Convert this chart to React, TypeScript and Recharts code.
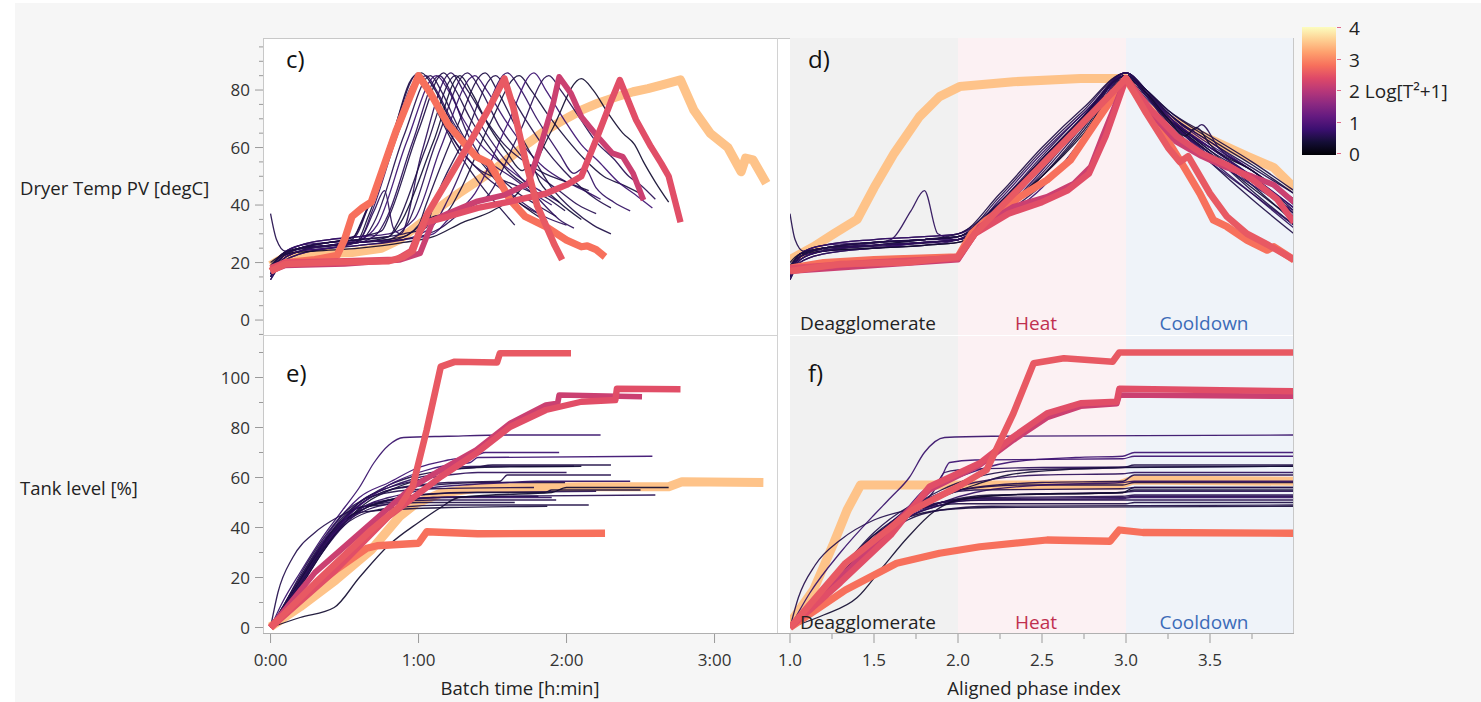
import React from "react";
import { LineChart, Line, XAxis, YAxis, ReferenceArea } from "recharts";

type Pt = [number, number];

// Log[T²+1] per batch. Index 0 is drawn first.
// 0 = pale orange outlier, 1..21 = normal batches, 22..25 = red/magenta outliers
const batchScore = [
  3.5, 0.5, 0.6, 0.45, 0.7, 0.55, 0.8, 0.5, 0.65, 0.4, 0.6, 0.75, 0.5, 0.55,
  0.7, 0.45, 0.8, 0.6, 0.35, 0.55, 0.65, 0.5, 2.8, 2.2, 2.45, 2.56,
];

// c) dryer temperature vs batch time [h]
const tempByTime: Pt[][] = [
  [[0,19],[0.1,22],[0.3,23],[0.55,23.5],[0.75,25],[0.87,28],[1.05,35],[1.15,39.5],[1.27,44],[1.4,48.5],[1.53,53],[1.64,57.5],[1.74,61.5],[1.86,66],[1.98,69.6],[2.1,73],[2.21,75.4],[2.33,77.5],[2.45,79.4],[2.55,80.5],[2.64,81.7],[2.77,83.5],[2.86,73],[2.97,65],[3.09,60],[3.18,51.6],[3.21,56.3],[3.26,55.7],[3.35,47.6]],
  [[0,15],[0.08,21],[0.2,24],[0.4,26],[0.55,28],[0.62,35],[0.8,60],[0.98,85],[1.06,80],[1.15,70],[1.25,60],[1.35,52],[1.45,45],[1.55,39],[1.65,33]],
  [[0,17],[0.08,22],[0.2,25],[0.4,27],[0.57,29],[0.65,38],[0.82,63],[1.0,84],[1.08,78],[1.2,66],[1.32,57],[1.45,50],[1.6,44],[1.7,40],[1.81,37]],
  [[0,14],[0.08,20],[0.2,23],[0.4,25],[0.58,27],[0.66,36],[0.85,64],[1.02,86],[1.1,81],[1.2,71],[1.3,62],[1.42,55],[1.55,47],[1.7,40],[1.87,34]],
  [[0,18],[0.08,23],[0.2,26],[0.4,27],[0.6,28],[0.68,37],[0.87,66],[1.05,85],[1.12,80],[1.22,70],[1.35,60],[1.5,54],[1.62,50],[1.75,45],[1.9,40]],
  [[0,37],[0.04,28],[0.1,24],[0.25,25],[0.45,26],[0.62,28],[0.7,34],[0.9,64],[1.08,85],[1.16,79],[1.26,68],[1.38,58],[1.52,51],[1.65,45],[1.8,40],[1.93,36]],
  [[0,16],[0.08,22],[0.2,25],[0.4,27],[0.6,28],[0.72,33],[0.92,62],[1.12,85],[1.2,80],[1.3,70],[1.42,61],[1.55,55],[1.7,49],[1.82,45],[1.95,41]],
  [[0,19],[0.08,23],[0.2,26],[0.4,28],[0.6,29],[0.75,31],[0.8,36],[1.0,66],[1.17,86],[1.25,80],[1.35,70],[1.48,60],[1.6,52],[1.75,46],[1.88,42],[1.99,38]],
  [[0,16],[0.08,22],[0.2,25],[0.4,26],[0.6,28],[0.7,38],[0.77,45],[0.83,32],[0.88,30],[1.02,58],[1.22,86],[1.3,80],[1.42,68],[1.55,58],[1.7,49],[1.85,40],[1.95,35],[2.05,32]],
  [[0,17],[0.08,22],[0.2,25],[0.4,26],[0.6,27],[0.8,29],[0.88,34],[1.1,62],[1.28,85],[1.36,79],[1.48,67],[1.6,58],[1.7,52],[1.76,54],[1.82,48],[1.95,41],[2.1,35]],
  [[0,15],[0.08,21],[0.2,24],[0.4,26],[0.6,27],[0.8,28],[0.92,33],[1.12,62],[1.33,86],[1.42,80],[1.55,67],[1.68,58],[1.82,50],[1.95,45],[2.08,40],[2.2,37]],
  [[0,18],[0.08,23],[0.2,26],[0.4,28],[0.6,29],[0.8,30],[0.97,35],[1.15,60],[1.38,85],[1.46,80],[1.58,70],[1.72,60],[1.85,53],[2.0,48],[2.12,45],[2.23,42]],
  [[0,16],[0.08,22],[0.2,24],[0.4,25],[0.6,26],[0.85,28],[1.0,33],[1.05,40],[1.25,66],[1.45,86],[1.53,80],[1.65,68],[1.78,56],[1.9,46],[2.05,38],[2.18,33],[2.3,30]],
  [[0,17],[0.08,23],[0.2,25],[0.4,27],[0.6,28],[0.9,30],[1.05,32],[1.1,40],[1.3,62],[1.52,85],[1.6,80],[1.72,70],[1.85,60],[1.98,52],[2.1,46],[2.2,42],[2.3,39]],
  [[0,14],[0.08,20],[0.2,23],[0.4,25],[0.6,26],[0.9,28],[1.1,33],[1.2,42],[1.42,68],[1.6,86],[1.68,81],[1.8,70],[1.95,58],[2.05,51],[2.12,53],[2.2,46],[2.32,41],[2.43,38]],
  [[0,18],[0.08,23],[0.2,25],[0.4,26],[0.6,27],[0.9,29],[1.1,36],[1.18,37],[1.28,45],[1.48,68],[1.68,85],[1.76,80],[1.88,71],[2.0,63],[2.12,56],[2.25,50],[2.38,47],[2.5,44]],
  [[0,16],[0.08,21],[0.2,24],[0.4,25],[0.6,27],[0.9,28],[1.1,30],[1.2,35],[1.38,44],[1.6,68],[1.78,86],[1.86,80],[1.98,70],[2.1,61],[2.22,55],[2.35,48],[2.48,43],[2.58,39]],
  [[0,17],[0.08,22],[0.2,25],[0.4,26],[0.6,27],[0.9,28],[1.15,32],[1.3,38],[1.48,44],[1.68,65],[1.88,85],[1.96,80],[2.08,71],[2.2,62],[2.32,56],[2.42,50],[2.5,47],[2.6,42]],
  [[0,20],[0.1,23],[0.3,24],[0.6,25],[0.9,27],[1.1,29],[1.3,34],[1.5,38],[1.7,46],[1.9,66],[2.1,84],[2.18,80],[2.28,72],[2.38,65],[2.46,61],[2.52,55],[2.6,48],[2.69,41]],
  [[0,16],[0.08,22],[0.2,25],[0.4,27],[0.56,29],[0.64,37],[0.82,64],[1.0,86],[1.08,80],[1.18,68],[1.3,58],[1.42,52],[1.55,49],[1.65,47],[1.78,44]],
  [[0,15],[0.08,21],[0.2,24],[0.4,26],[0.6,27],[0.72,30],[0.78,35],[0.96,62],[1.14,85],[1.22,79],[1.32,66],[1.44,55],[1.56,47],[1.7,41],[1.85,36],[2.0,33]],
  [[0,18],[0.08,23],[0.2,25],[0.4,27],[0.6,28],[0.8,29],[0.85,33],[1.05,60],[1.25,85],[1.33,80],[1.45,70],[1.58,61],[1.72,55],[1.85,51],[2.0,48],[2.15,45]],
  [[0,17],[0.1,20],[0.3,21],[0.45,22.5],[0.5,28],[0.55,36],[0.62,39],[0.68,41],[0.85,66],[1.0,85],[1.08,79],[1.2,68],[1.29,62.6],[1.39,56.8],[1.48,54.5],[1.62,41.7],[1.72,36],[1.86,32.5],[2.0,27.8],[2.1,25.5],[2.14,25.8],[2.2,24.5],[2.26,22]],
  [[0,17],[0.1,19],[0.5,19.5],[0.87,20.9],[1.01,23.2],[1.1,34.8],[1.2,37.1],[1.39,41.2],[1.58,43.5],[1.74,47.5],[1.81,58],[1.91,75.4],[1.95,84.6],[2.03,78.8],[2.1,70.7],[2.21,63.8],[2.31,58],[2.38,56.8],[2.45,51],[2.52,41.7]],
  [[0,18],[0.1,20],[0.5,20.5],[0.85,21],[0.95,24],[1.0,30],[1.05,34],[1.2,36],[1.4,39],[1.6,41],[1.86,44],[2.0,47],[2.1,50],[2.21,64],[2.3,76],[2.36,83.5],[2.47,69.6],[2.57,60.3],[2.64,54.5],[2.69,50],[2.77,34]],
  [[0,17],[0.1,19.5],[0.4,20],[0.8,20.5],[0.9,22],[0.96,24],[1.01,31],[1.06,37],[1.2,49],[1.35,62],[1.47,73],[1.58,84],[1.64,74],[1.72,56],[1.8,40],[1.86,33],[1.92,26],[1.97,21]],
];

// d) dryer temperature vs aligned phase index
const tempByPhase: Pt[][] = [
  [[1,21],[1.14,25.5],[1.26,30],[1.4,35],[1.5,46],[1.62,58],[1.77,70.7],[1.89,77.7],[2.01,81.2],[2.33,82.9],[2.73,84],[3.0,84],[3.12,74],[3.42,65],[3.72,57],[3.88,53],[4.0,46]],
  [[1,15],[1.06,21],[1.2,24],[1.5,26],[1.8,27],[2.0,28],[2.25,40],[2.5,55],[2.75,71],[3.0,85],[3.12,78],[3.25,70],[3.5,58],[3.75,45],[4.0,33]],
  [[1,17],[1.06,22],[1.2,25],[1.5,27],[1.8,28],[2.0,29],[2.25,41],[2.5,57],[2.75,72],[3.0,84],[3.12,77],[3.25,70],[3.5,60],[3.75,50],[4.0,37]],
  [[1,14],[1.06,20],[1.2,23],[1.5,25],[1.8,26],[2.0,27],[2.25,39],[2.5,55],[2.75,71],[3.0,86],[3.12,79],[3.25,71],[3.5,59],[3.75,47],[4.0,34]],
  [[1,18],[1.06,23],[1.2,26],[1.5,27],[1.8,28],[2.0,28],[2.25,42],[2.5,58],[2.75,72],[3.0,85],[3.12,78],[3.25,70],[3.5,60],[3.75,52],[4.0,40]],
  [[1,37],[1.03,28],[1.08,24],[1.3,25],[1.6,26],[2.0,28],[2.25,40],[2.5,56],[2.75,71],[3.0,85],[3.12,78],[3.25,69],[3.5,58],[3.75,48],[4.0,36]],
  [[1,16],[1.06,22],[1.2,25],[1.5,27],[1.8,28],[2.0,29],[2.25,38],[2.5,53],[2.75,69],[3.0,86],[3.12,80],[3.25,72],[3.5,61],[3.75,52],[4.0,41]],
  [[1,19],[1.06,23],[1.2,26],[1.5,28],[1.8,29],[2.0,30],[2.25,44],[2.5,60],[2.75,74],[3.0,86],[3.12,79],[3.25,71],[3.5,59],[3.75,50],[4.0,38]],
  [[1,16],[1.06,22],[1.2,25],[1.4,26],[1.6,28],[1.72,38],[1.8,45],[1.88,30],[2.0,28],[2.25,37],[2.5,52],[2.75,69],[3.0,86],[3.12,79],[3.25,70],[3.5,56],[3.75,44],[4.0,32]],
  [[1,17],[1.06,22],[1.2,25],[1.5,26],[1.8,28],[2.0,29],[2.25,39],[2.5,54],[2.75,70],[3.0,85],[3.12,78],[3.25,70],[3.5,58],[3.75,46],[4.0,35]],
  [[1,15],[1.06,21],[1.2,24],[1.5,26],[1.8,27],[2.0,28],[2.25,37],[2.5,51],[2.75,68],[3.0,86],[3.12,80],[3.25,70],[3.5,58],[3.75,48],[4.0,37]],
  [[1,18],[1.06,23],[1.2,26],[1.5,28],[1.8,29],[2.0,30],[2.25,40],[2.5,55],[2.75,70],[3.0,85],[3.12,80],[3.25,72],[3.5,62],[3.75,52],[4.0,42]],
  [[1,16],[1.06,22],[1.2,24],[1.5,25],[1.8,27],[2.0,28],[2.25,36],[2.5,50],[2.75,67],[3.0,86],[3.12,79],[3.25,69],[3.5,55],[3.75,42],[4.0,30]],
  [[1,17],[1.06,23],[1.2,25],[1.5,27],[1.8,28],[2.0,30],[2.25,41],[2.5,56],[2.75,71],[3.0,85],[3.12,79],[3.25,71],[3.5,60],[3.75,50],[4.0,39]],
  [[1,14],[1.06,20],[1.2,23],[1.5,25],[1.8,26],[2.0,28],[2.25,39],[2.5,54],[2.75,70],[3.0,86],[3.12,79],[3.25,70],[3.5,57],[3.75,47],[4.0,38]],
  [[1,18],[1.06,23],[1.2,25],[1.5,26],[1.8,28],[2.0,29],[2.2,36],[2.25,38],[2.5,50],[2.75,66],[3.0,85],[3.12,80],[3.25,73],[3.5,63],[3.75,54],[4.0,44]],
  [[1,16],[1.06,21],[1.2,24],[1.5,25],[1.8,27],[2.0,28],[2.25,35],[2.5,46],[2.75,64],[3.0,86],[3.12,79],[3.25,71],[3.5,60],[3.75,50],[4.0,39]],
  [[1,17],[1.06,22],[1.2,25],[1.5,26],[1.8,27],[2.0,28],[2.25,36],[2.5,47],[2.75,63],[3.0,85],[3.12,79],[3.25,72],[3.4,66],[3.45,68],[3.55,60],[3.75,52],[4.0,42]],
  [[1,20],[1.06,23],[1.2,24],[1.5,25],[1.8,26],[2.0,27],[2.25,38],[2.5,50],[2.75,65],[3.0,84],[3.12,79],[3.25,70],[3.35,64],[3.42,67],[3.5,61],[3.75,52],[4.0,41]],
  [[1,16],[1.06,22],[1.2,25],[1.5,27],[1.8,28],[2.0,29],[2.25,43],[2.5,59],[2.75,73],[3.0,86],[3.12,80],[3.25,72],[3.5,62],[3.75,53],[4.0,44]],
  [[1,15],[1.06,21],[1.2,24],[1.5,26],[1.8,27],[2.0,28],[2.25,39],[2.5,53],[2.75,70],[3.0,85],[3.12,78],[3.25,68],[3.5,55],[3.75,44],[4.0,33]],
  [[1,18],[1.06,23],[1.2,25],[1.5,27],[1.8,28],[2.0,29],[2.25,41],[2.5,56],[2.75,71],[3.0,85],[3.12,80],[3.25,73],[3.5,64],[3.75,55],[4.0,45]],
  [[1,18],[1.2,20],[1.5,21],[2.0,22],[2.08,30],[2.17,34.8],[2.37,42.9],[2.53,48.7],[2.67,55.7],[2.83,69.6],[3.0,84],[3.16,70.7],[3.32,55.7],[3.44,44],[3.52,34.8],[3.6,32.5],[3.72,27.8],[3.84,24.3],[3.88,25.5],[4.0,20.9]],
  [[1,17],[1.5,19],[2.0,21],[2.13,32.5],[2.33,39.4],[2.53,42.9],[2.69,47.5],[2.79,53.3],[2.86,63.8],[3.0,84],[3.15,72],[3.3,62],[3.45,57],[3.6,53],[3.75,50],[3.88,47],[4.0,41]],
  [[1,18],[1.5,20],[2.0,21.5],[2.1,30],[2.3,37],[2.5,41],[2.65,45],[2.78,51],[2.88,64],[3.0,84],[3.15,73],[3.3,64],[3.45,58],[3.6,54],[3.75,49],[3.9,42],[4.0,34]],
  [[1,17],[1.3,19.5],[1.7,20],[2.0,22],[2.1,30],[2.3,42],[2.5,54],[2.7,66],[2.85,75],[3.0,84],[3.12,72],[3.25,60],[3.32,55],[3.37,57],[3.42,52],[3.5,44],[3.6,36],[3.72,30],[3.85,26],[4.0,21]],
];

// e) tank level vs batch time [h]
const levelByTime: Pt[][] = [
  [[0,0.3],[0.2,8.3],[0.44,19],[0.68,31],[0.87,44.3],[0.985,49.7],[1.15,53.7],[1.39,55.7],[2.1,56.3],[2.69,56.3],[2.78,58.3],[3.33,58]],
  [[0,0],[0.1,9],[0.2,19],[0.35,33],[0.5,44],[0.6,48],[0.75,49],[1.0,50],[1.65,50]],
  [[0,0],[0.1,8],[0.2,18],[0.35,31],[0.5,42],[0.62,48],[0.8,51],[1.1,52],[1.81,52.5]],
  [[0,0],[0.1,10],[0.2,20],[0.35,34],[0.5,43],[0.6,46],[0.8,47],[1.2,48],[1.87,48.5]],
  [[0,0],[0.1,7],[0.2,16],[0.35,30],[0.5,41],[0.65,48],[0.85,51],[1.2,52],[1.9,52]],
  [[0,0],[0.05,14],[0.15,28],[0.3,38],[0.45,44],[0.6,48],[0.8,50],[1.1,51],[1.93,51]],
  [[0,0],[0.1,9],[0.2,19],[0.35,34],[0.5,46],[0.6,52],[0.8,58],[1.0,64],[1.2,67],[1.4,69],[1.45,70],[1.95,70]],
  [[0,0],[0.1,8],[0.2,17],[0.35,31],[0.5,43],[0.62,50],[0.75,54],[0.9,56],[1.1,57],[1.4,58],[1.99,58]],
  [[0,0],[0.1,9],[0.2,18],[0.35,32],[0.5,44],[0.6,50],[0.8,56],[1.0,60],[1.15,62],[1.2,64],[1.5,64.5],[2.05,64.5]],
  [[0,0],[0.1,7],[0.2,16],[0.35,30],[0.5,42],[0.65,50],[0.85,56],[1.05,60],[1.2,63],[1.4,64],[2.1,64.5]],
  [[0,0],[0.1,8],[0.2,17],[0.35,31],[0.5,42],[0.65,48],[0.8,51],[1.0,53],[1.3,54],[2.2,54.5]],
  [[0,0],[0.08,10],[0.2,22],[0.35,36],[0.5,48],[0.6,56],[0.7,66],[0.8,73],[0.9,76],[1.2,76.5],[1.6,77],[2.23,77]],
  [[0,0],[0.1,8],[0.2,18],[0.35,33],[0.5,45],[0.65,52],[0.8,57],[1.0,61],[1.2,63],[1.38,64],[1.5,65],[2.3,65]],
  [[0,0],[0.1,9],[0.2,19],[0.35,33],[0.5,44],[0.65,51],[0.8,55],[1.0,57],[1.2,58],[1.55,58.5],[1.6,61],[2.3,61]],
  [[0,0],[0.1,8],[0.2,17],[0.35,31],[0.5,42],[0.65,49],[0.8,52],[0.95,54],[1.1,56],[1.3,57],[1.6,58],[1.8,58.5],[2.43,58.5]],
  [[0,0],[0.1,9],[0.2,19],[0.35,32],[0.5,43],[0.65,48],[0.8,51],[1.0,53],[1.4,54],[1.85,54],[1.9,55],[2.5,55]],
  [[0,0],[0.1,8],[0.2,17],[0.35,31],[0.5,43],[0.65,51],[0.8,57],[1.0,62],[1.2,65],[1.35,66],[1.4,68],[2.58,68.5]],
  [[0,0],[0.1,10],[0.2,20],[0.35,33],[0.5,42],[0.65,47],[0.85,50],[1.1,52],[1.5,52.5],[2.6,53]],
  [[0,0],[0.2,4],[0.43,8],[0.6,20],[0.8,33],[1.0,42],[1.15,48],[1.27,52],[1.5,53],[1.9,54],[2.0,56],[2.69,56]],
  [[0,0],[0.1,10],[0.2,21],[0.35,35],[0.5,46],[0.62,51],[0.8,54],[1.1,55.5],[1.78,56]],
  [[0,0],[0.1,9],[0.2,18],[0.35,32],[0.5,44],[0.62,51],[0.8,56],[1.0,59],[1.2,61],[1.4,62],[2.0,62]],
  [[0,0],[0.1,8],[0.2,17],[0.35,31],[0.5,41],[0.65,46],[0.85,48],[1.2,49],[2.15,49]],
  [[0,0],[0.2,12.3],[0.44,23],[0.65,31.7],[0.72,32.7],[1.0,33.7],[1.055,38.3],[1.4,37.5],[2.26,37.7]],
  [[0,0],[0.3,22],[0.68,41.7],[0.96,56.3],[1.15,63],[1.39,71],[1.62,81.7],[1.86,89],[1.94,89.7],[1.95,93],[2.51,92.3]],
  [[0,0],[0.44,23],[0.795,44.3],[1.15,60.3],[1.39,69.7],[1.62,80.3],[1.86,87],[2.1,90.3],[2.33,91],[2.34,95.5],[2.77,95.3]],
  [[0,0],[0.3,17.7],[0.68,39],[0.87,48.3],[0.96,56.3],[1.055,79],[1.15,104.3],[1.245,106.3],[1.53,106],[1.55,109.7],[2.03,109.7]],
];

// f) tank level vs aligned phase index
const levelByPhase: Pt[][] = [
  [[1,1.7],[1.14,15],[1.26,33.7],[1.34,47],[1.42,57],[2.96,57],[3.04,59],[4,58.5]],
  [[1,0],[1.15,10],[1.3,22],[1.5,37],[1.7,46],[1.9,49],[2.0,49.5],[3.0,49.5],[3.05,50],[4,50]],
  [[1,0],[1.15,9],[1.3,20],[1.5,35],[1.7,45],[1.9,50],[2.1,51.5],[2.98,52],[3.05,52.5],[4,52.5]],
  [[1,0],[1.15,11],[1.3,23],[1.5,37],[1.7,44],[1.9,47],[2.2,48],[4,48.5]],
  [[1,0],[1.15,8],[1.3,18],[1.5,33],[1.7,44],[1.9,49],[2.1,51],[2.98,51.5],[3.03,52],[4,52]],
  [[1,0],[1.05,12],[1.15,25],[1.3,35],[1.5,43],[1.7,47],[1.9,50],[2.2,51],[4,51]],
  [[1,0],[1.15,10],[1.3,21],[1.5,36],[1.7,48],[1.8,55],[1.9,57],[2.0,60],[2.3,66],[2.7,68],[2.98,68.5],[3.05,70],[4,70]],
  [[1,0],[1.15,9],[1.3,19],[1.5,34],[1.7,46],[1.85,52],[2.0,55],[2.4,57],[2.98,57],[3.05,58],[4,58]],
  [[1,0],[1.15,10],[1.3,20],[1.5,35],[1.7,46],[1.85,54],[1.92,62],[2.0,63],[2.5,64],[4,64.5]],
  [[1,0],[1.15,8],[1.3,18],[1.5,33],[1.7,45],[1.9,52],[2.1,57],[2.3,61],[2.6,63],[2.98,64],[4,64.5]],
  [[1,0],[1.15,9],[1.3,19],[1.5,34],[1.7,44],[1.9,49],[2.1,52],[2.5,53.5],[2.98,54],[3.05,54.5],[4,54.5]],
  [[1,0],[1.12,14],[1.3,30],[1.5,45],[1.6,52],[1.71,60],[1.8,70],[1.92,76],[2.2,76.5],[4,77]],
  [[1,0],[1.15,9],[1.3,20],[1.5,35],[1.7,47],[1.9,55],[2.1,60],[2.4,63],[2.98,64],[3.05,65],[4,65]],
  [[1,0],[1.15,10],[1.3,21],[1.5,36],[1.7,47],[1.9,53],[2.1,56],[2.5,58],[2.98,58.5],[3.05,61],[4,61]],
  [[1,0],[1.15,8],[1.3,18],[1.5,33],[1.7,44],[1.9,50],[2.1,54],[2.5,57],[2.98,58],[3.05,58.5],[4,58.5]],
  [[1,0],[1.15,9],[1.3,20],[1.5,34],[1.7,45],[1.9,50],[2.2,53],[2.98,54],[3.05,55],[4,55]],
  [[1,0],[1.15,8],[1.3,18],[1.5,33],[1.7,46],[1.85,56],[1.9,60],[1.95,66],[2.1,67],[2.98,67.5],[3.05,68.5],[4,68.5]],
  [[1,0],[1.15,10],[1.3,21],[1.5,35],[1.7,45],[1.9,50],[2.2,52],[2.98,52.5],[3.05,53],[4,53]],
  [[1,0],[1.2,5],[1.4,12],[1.55,24],[1.7,36],[1.85,46],[2.0,51],[2.3,53],[2.98,54],[3.05,56],[4,56]],
  [[1,0],[1.15,11],[1.3,23],[1.5,38],[1.7,48],[1.9,53],[2.1,55],[2.98,55.5],[3.05,56],[4,56]],
  [[1,0],[1.15,9],[1.3,20],[1.5,35],[1.7,47],[1.9,54],[2.1,58],[2.5,61],[2.98,61.5],[3.05,62],[4,62]],
  [[1,0],[1.15,8],[1.3,18],[1.5,33],[1.7,43],[1.9,47],[2.2,48.5],[4,49]],
  [[1,0],[1.33,15],[1.635,25.7],[1.89,29.7],[2.13,32.3],[2.53,35],[2.905,34.5],[2.96,39],[3.1,38],[4,37.7]],
  [[1,0],[1.3,20],[1.6,40],[1.83,55],[2.13,65],[2.33,75],[2.53,84],[2.73,88.5],[2.945,89.5],[2.96,93],[4,92.5]],
  [[1,0],[1.3,18],[1.6,37],[1.83,56.3],[2.13,65.7],[2.33,76.3],[2.53,85.7],[2.73,89.7],[2.945,90.3],[2.96,95.5],[4,94.5]],
  [[1,0],[1.33,25.7],[1.73,47],[2.0,56.3],[2.17,63],[2.33,85.7],[2.45,105.7],[2.63,107.7],[2.92,106.3],[2.96,110],[4,110]],
];

const timeTicks = [0, 1, 2, 3];
const phaseTicks = [1, 1.25, 1.5, 1.75, 2, 2.25, 2.5, 2.75, 3, 3.25, 3.5, 3.75];
const tempTicks = [-5, 0, 5, 10, 15, 20, 25, 30, 35, 40, 45, 50, 55, 60, 65, 70, 75, 80, 85, 90, 95];
const levelTicks = [0, 10, 20, 30, 40, 50, 60, 70, 80, 90, 100, 110];
const scaleLabels = ["4", "3", "2", "1", "0"];

const phases = [
  { x1: 1, x2: 2, name: "Deagglomerate", bg: "#f1f1f1", color: "#222222" },
  { x1: 2, x2: 3, name: "Heat", bg: "#fcf1f3", color: "#c0304f" },
  { x1: 3, x2: 4, name: "Cooldown", bg: "#eff3f9", color: "#3c6bb8" },
];

const MAGMA = ["#000004", "#140e36", "#3b0f70", "#641a80", "#8c2981", "#b73779", "#de4968", "#f7705c", "#fe9f6d", "#fecf92", "#fcfdbf"];
const FONT = "'Open Sans', 'Noto Sans', sans-serif";

function magma(f: number) {
  const t = Math.min(1, Math.max(0, f)) * (MAGMA.length - 1);
  const i = Math.min(MAGMA.length - 2, Math.floor(t));
  const k = t - i;
  const a = parseInt(MAGMA[i].slice(1), 16);
  const b = parseInt(MAGMA[i + 1].slice(1), 16);
  const ch = (s: number) => Math.round(((a >> s) & 255) * (1 - k) + ((b >> s) & 255) * k);
  return `rgb(${ch(16)},${ch(8)},${ch(0)})`;
}

const toRows = (pts: Pt[]) => pts.map(([x, y]) => ({ x, y }));

function renderLines(series: Pt[][]) {
  return series.map((pts, i) => {
    const s = batchScore[i];
    const thick = s >= 2;
    return (
      <Line
        key={i}
        data={toRows(pts)}
        dataKey="y"
        type={thick ? "linear" : "monotoneX"}
        stroke={magma(s / 4)}
        strokeWidth={thick ? s * 2.6 : 1.3}
        strokeOpacity={thick ? 1 : 0.92}
        strokeLinejoin="round"
        dot={false}
        activeDot={false}
        isAnimationActive={false}
      />
    );
  });
}

const yTick = (every: number) => (props: any) => {
  const { x, y, payload } = props;
  const major = payload.value >= 0 && payload.value % every === 0;
  return (
    <g>
      <line x1={x - (major ? 8 : 4)} x2={x} y1={y} y2={y} stroke="#9a9a9a" />
      {major && (
        <text x={x - 13} y={y} dy={6} textAnchor="end" fontSize={17} fill="#333" fontFamily={FONT}>
          {payload.value}
        </text>
      )}
    </g>
  );
};

const timeTick = (props: any) => {
  const { x, y, payload } = props;
  return (
    <g>
      <line x1={x} x2={x} y1={y} y2={y + 9} stroke="#9a9a9a" />
      <text x={x} y={y + 32} textAnchor="middle" fontSize={17} fill="#333" fontFamily={FONT}>
        {`${payload.value}:00`}
      </text>
    </g>
  );
};

const phaseTick = (props: any) => {
  const { x, y, payload } = props;
  const major = (payload.value * 2) % 1 === 0;
  return (
    <g>
      <line x1={x} x2={x} y1={y} y2={y + (major ? 9 : 5)} stroke="#9a9a9a" />
      {major && (
        <text x={x} y={y + 32} textAnchor="middle" fontSize={17} fill="#333" fontFamily={FONT}>
          {payload.value.toFixed(1)}
        </text>
      )}
    </g>
  );
};

function phaseAreas() {
  return phases.map((p) => (
    <ReferenceArea
      key={p.name}
      x1={p.x1}
      x2={p.x2}
      fill={p.bg}
      fillOpacity={1}
      stroke="none"
      ifOverflow="hidden"
      label={{ value: p.name, position: "insideBottom", offset: 5, dx: -6, fill: p.color, fontSize: 19, fontFamily: FONT }}
    />
  ));
}

const abs = (left: number, top: number, extra: React.CSSProperties = {}): React.CSSProperties => ({
  position: "absolute",
  left,
  top,
  ...extra,
});

const TIME_DOMAIN: [number, number] = [-0.051, 3.422];
const TEMP_DOMAIN: [number, number] = [-5.2, 98.1];
const LEVEL_DOMAIN: [number, number] = [-2.6, 116.6];
const RIGHT_MARGIN = { top: 0, right: 0, bottom: 0, left: 20 };

export default function App() {
  const text: React.CSSProperties = { fontFamily: FONT, fontSize: 18.5, color: "#222", whiteSpace: "nowrap" };
  const scaleText: React.CSSProperties = { ...text, fontSize: 19 };
  const panelLabel: React.CSSProperties = { fontFamily: FONT, fontSize: 24, color: "#111" };
  return (
    <div style={abs(0, 0, { width: 1481, height: 702, background: "#ffffff", overflow: "hidden" })}>
      <div style={abs(15, 3, { width: 1466, height: 699, background: "#f6f6f6" })} />
      {/* frame of the 2x2 grid */}
      <div style={abs(263, 38, { width: 1031, height: 596, background: "#fff", border: "1px solid #c8c8c8", boxSizing: "border-box" })} />
      <div style={abs(777, 38, { width: 1, height: 596, background: "#d2d2d2" })} />
      <div style={abs(263, 335, { width: 514, height: 1, background: "#d2d2d2" })} />

      {/* c) */}
      <div style={abs(218, 38)}>
        <LineChart width={559} height={297} margin={{ top: 0, right: 0, bottom: 0, left: 0 }}>
          <XAxis dataKey="x" type="number" domain={TIME_DOMAIN} allowDataOverflow hide />
          <YAxis type="number" domain={TEMP_DOMAIN} allowDataOverflow ticks={tempTicks} interval={0} width={45}
            tickSize={0} tickMargin={0} axisLine={false} tickLine={false} tick={yTick(20)} />
          {renderLines(tempByTime)}
        </LineChart>
      </div>

      {/* d) */}
      <div style={abs(770, 38)}>
        <LineChart width={524} height={297} margin={RIGHT_MARGIN}>
          <XAxis dataKey="x" type="number" domain={[1, 4]} allowDataOverflow hide />
          <YAxis type="number" domain={TEMP_DOMAIN} allowDataOverflow hide />
          {phaseAreas()}
          {renderLines(tempByPhase)}
        </LineChart>
      </div>

      {/* e) */}
      <div style={abs(218, 336)}>
        <LineChart width={559} height={348} margin={{ top: 0, right: 0, bottom: 0, left: 0 }}>
          <XAxis dataKey="x" type="number" domain={TIME_DOMAIN} allowDataOverflow ticks={timeTicks} interval={0} height={50}
            tickSize={0} tickMargin={0} axisLine={false} tickLine={false} tick={timeTick} />
          <YAxis type="number" domain={LEVEL_DOMAIN} allowDataOverflow ticks={levelTicks} interval={0} width={45}
            tickSize={0} tickMargin={0} axisLine={false} tickLine={false} tick={yTick(20)} />
          {renderLines(levelByTime)}
        </LineChart>
      </div>

      {/* f) */}
      <div style={abs(770, 336)}>
        <LineChart width={524} height={348} margin={RIGHT_MARGIN}>
          <XAxis dataKey="x" type="number" domain={[1, 4]} allowDataOverflow ticks={phaseTicks} interval={0} height={50}
            tickSize={0} tickMargin={0} axisLine={false} tickLine={false} tick={phaseTick} />
          <YAxis type="number" domain={LEVEL_DOMAIN} allowDataOverflow hide />
          {phaseAreas()}
          {renderLines(levelByPhase)}
        </LineChart>
      </div>

      <div style={abs(1293, 38, { width: 1, height: 596, background: "#c8c8c8" })} />
      <div style={abs(263, 633, { width: 1031, height: 1, background: "#b0b0b0" })} />

      <div style={abs(286, 42, panelLabel)}>c)</div>
      <div style={abs(808, 42, panelLabel)}>d)</div>
      <div style={abs(286, 356, panelLabel)}>e)</div>
      <div style={abs(808, 356, panelLabel)}>f)</div>

      <div style={abs(20, 175, text)}>Dryer Temp PV [degC]</div>
      <div style={abs(20, 475, text)}>Tank level [%]</div>
      <div style={abs(520, 687, { ...text, transform: "translate(-50%, -50%)" })}>Batch time [h:min]</div>
      <div style={abs(1034, 687, { ...text, transform: "translate(-50%, -50%)" })}>Aligned phase index</div>

      {/* colour scale */}
      <div style={abs(1302, 27, { width: 34, height: 128, background: `linear-gradient(to top, ${MAGMA.join(", ")})` })} />
      {scaleLabels.map((s, i) => (
        <React.Fragment key={s}>
          <div style={abs(1337, 27 + i * 31.5, { width: 4, height: 1, background: "#e06a8a" })} />
          <div style={abs(1349, 15 + i * 31.5, scaleText)}>
            {s}
            {s === "2" ? " Log[T²+1]" : ""}
          </div>
        </React.Fragment>
      ))}
    </div>
  );
}
